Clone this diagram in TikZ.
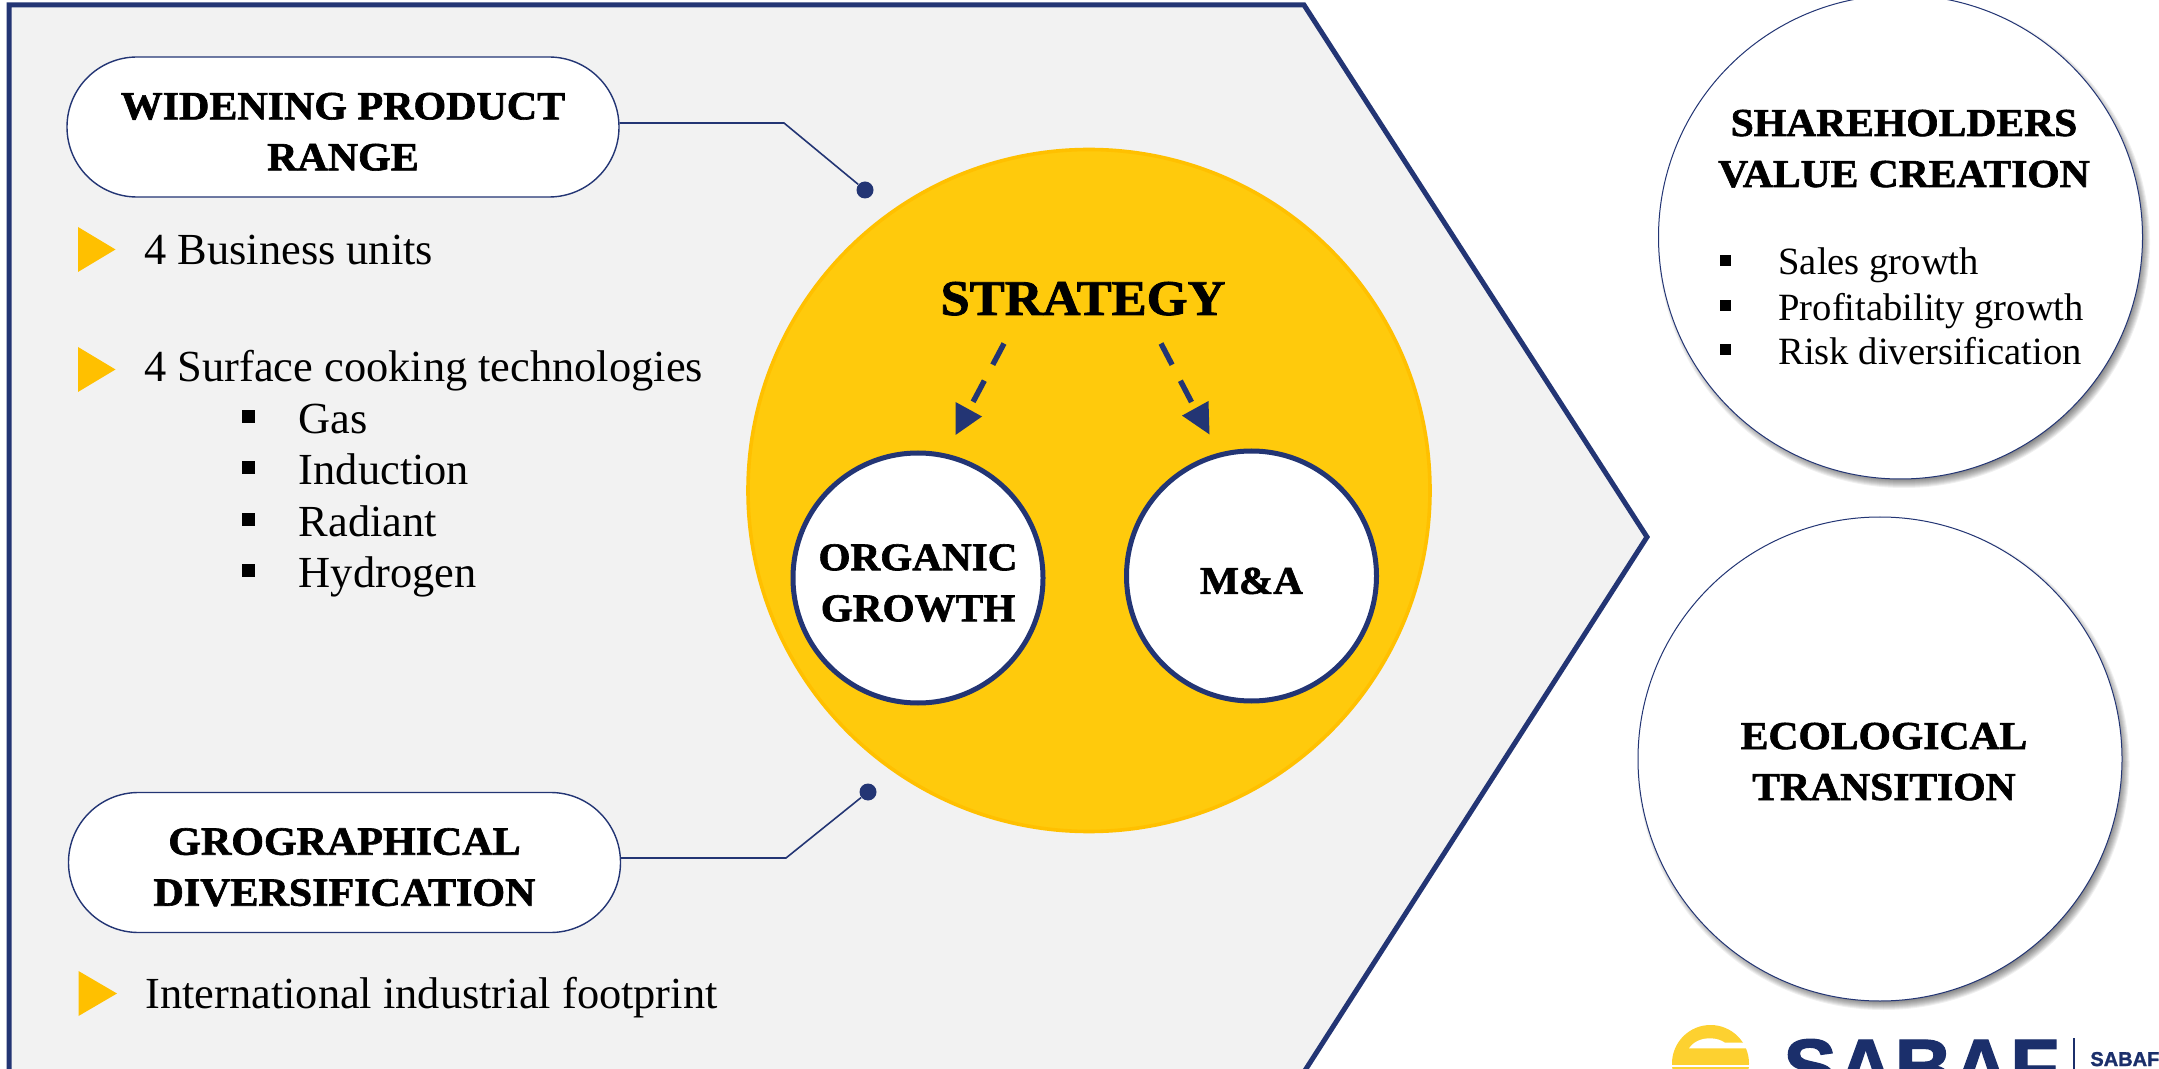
\documentclass[tikz,border=0pt]{standalone}
\usepackage{fontspec}
\usetikzlibrary{shapes.misc}
\setmainfont{Liberation Serif}
\newfontfamily\headB[FakeStretch=1.05,FakeBold=1.6]{Liberation Serif Bold}
\newfontfamily\logofont[FakeBold=1.5]{Liberation Sans Bold}
\definecolor{navy}{HTML}{233574}
\definecolor{sunfill}{HTML}{FFCA0C}
\definecolor{sunline}{HTML}{FFC000}
\definecolor{panel}{HTML}{F2F2F2}
\definecolor{logoyellow}{HTML}{FDD130}
\definecolor{logonavy}{HTML}{1B2F6B}
\newcommand{\hfnt}[1]{\headB\fontsize{#1}{25.5}\selectfont}
\tikzset{
  x=0.5pt,y=-0.5pt,
  pill/.style={draw=navy,line width=0.7pt,fill=white,rounded rectangle,minimum width=276pt,minimum height=70pt,inner sep=0pt,align=center,font=\hfnt{20}},
  bigdisc/.style={circle,draw=navy,line width=0.5pt,fill=white,minimum size=242pt,inner sep=0pt,align=center},
  headtxt/.style={font=\hfnt{19.8},align=center,inner sep=0pt},
  growth/.style={circle,draw=navy,line width=2.5pt,fill=white,minimum size=125pt,inner sep=0pt,align=center,font=\hfnt{19.6}},
  body/.style={anchor=base west,inner sep=0pt,font=\fontsize{22.2}{25}\selectfont},
  bodyr/.style={anchor=base west,inner sep=0pt,font=\fontsize{19.3}{24}\selectfont},
  tick/.style={fill=sunline},
  sq/.style={fill=black,draw=none,minimum size=6.5pt,inner sep=0pt},
  sqr/.style={fill=black,draw=none,minimum size=5.5pt,inner sep=0pt},
  endpt/.style={circle,fill=navy,minimum size=8.5pt,inner sep=0pt},
  link/.style={draw=navy,line width=0.8pt},
  dasharrow/.style={draw=navy,line width=2.7pt,dash pattern=on 12pt off 9pt},
  headfill/.style={fill=navy}
}
\begin{document}
\begin{tikzpicture}
\useasboundingbox (0,0) rectangle (2159,1069);
\clip (0,0) rectangle (2159,1069);
\fill[white] (0,0) rectangle (2159,1069);
% panel
\draw[fill=panel,draw=navy,line width=2.5pt] (9,5) -- (1304,5) -- (1647,537) -- (1304,1072) -- (1304,1100) -- (9,1100) -- cycle;
% strategy disc
\node[circle,fill=sunfill,draw=sunline,line width=1.8pt,minimum size=341pt,inner sep=0pt] (main) at (1089,490.5) {};
\node[anchor=base,inner sep=0pt,font=\hfnt{25}] (strategy) at (1083,315) {STRATEGY};
\node[growth] (organic) at (918,578) {\rule{0pt}{18pt}ORGANIC\\GROWTH};
\node[growth] (ma) at (1251.5,576) {\rule{0pt}{18pt}M\&A};
% dashed arrows
\coordinate (aL1) at (1004,343.5); \coordinate (aL2) at (972.5,403);
\coordinate (aR1) at (1161,343.5); \coordinate (aR2) at (1192,403);
\draw[dasharrow] (aL1) -- (aL2);
\draw[dasharrow] (aR1) -- (aR2);
\fill[headfill] (955.5,402) -- (982,416.5) -- (955.5,435) -- cycle;
\fill[headfill] (1208.5,401) -- (1182,415.6) -- (1209.5,434.4) -- cycle;
% pills
\node[pill] (p1) at (343,127) {\rule{0pt}{18pt}WIDENING PRODUCT\\RANGE};
\node[pill] (p2) at (344.5,862.5) {\rule{0pt}{18pt}GROGRAPHICAL\\DIVERSIFICATION};
\node[endpt] (d1) at (865,190) {};
\node[endpt] (d2) at (868,792) {};
\coordinate (e1) at (784,123);
\coordinate (e2) at (786,858);
\draw[link] (e1 -| p1.east) -- (e1) -- (d1);
\draw[link] (e2 -| p2.east) -- (e2) -- (d2);
% triangles
\fill[tick] (78,227) -- (115.5,249.5) -- (78,272) -- cycle;
\fill[tick] (78,347) -- (115.5,369.5) -- (78,392) -- cycle;
\fill[tick] (78.5,971) -- (117,993.5) -- (78.5,1016) -- cycle;
% left text
\node[body] (t1) at (144,265) {4 Business units};
\node[body] (t2) at (144,382) {4 Surface cooking technologies};
\node[sq] (b1) at (248.5,416.5) {};
\node[sq] (b2) at (248.5,468) {};
\node[sq] (b3) at (248.5,519.5) {};
\node[sq] (b4) at (248.5,571) {};
\node[body] (g1) at (298.5,433.5) {Gas};
\node[body] (g2) at (298.5,485) {Induction};
\node[body] (g3) at (298.5,536.5) {Radiant};
\node[body] (g4) at (298.5,588) {Hydrogen};
\node[body] (t3) at (145,1008) {International industrial footprint};
% right discs shadows
\foreach \k in {0,...,9}{
  \fill[black,opacity=0.06] (1904,242) circle ({(246-\k)*0.5pt});
  \fill[black,opacity=0.06] (1883.5,764) circle ({(246-\k)*0.5pt});
}
\node[bigdisc] (c1) at (1900.5,237) {};
\node[bigdisc] (c2) at (1880,759) {};
\node[headtxt,anchor=base] (h1) at (1904,136) {SHAREHOLDERS};
\node[headtxt,anchor=base] (h2) at (1904,187) {VALUE CREATION};
\node[sqr] (r1) at (1725,261) {};
\node[sqr] (r2) at (1725,305.7) {};
\node[sqr] (r3) at (1725,350) {};
\node[bodyr] (s1) at (1778,275) {Sales growth};
\node[bodyr] (s2) at (1778,321) {Profitability growth};
\node[bodyr] (s3) at (1778,364.5) {Risk diversification};
\node[headtxt,anchor=base] (h3) at (1884,749) {ECOLOGICAL};
\node[headtxt,anchor=base] (h4) at (1884,800) {TRANSITION};
% logo
\fill[logoyellow] (1710.5,1063.5) circle (19.25pt);
\fill[white] (1689,1048.3) .. controls (1694,1041) and (1702,1038.3) .. (1710,1038.3) .. controls (1716,1038.3) and (1721,1040) .. (1725,1042.7) -- (1760,1042.7) -- (1760,1048.3) -- cycle;
\fill[white] (1665,1065) rectangle (1755,1067);
\node[anchor=base west,inner sep=0pt,text=logonavy,font=\logofont\fontsize{40}{40}\selectfont] (logo) at (1783,1095) {SABAF};
\draw[logonavy,line width=0.7pt] (2074,1038) -- (2074,1075);
\node[anchor=base west,inner sep=0pt,text=logonavy,font=\logofont\fontsize{10}{12}\selectfont] (logo2) at (2090,1066) {SABAF};
\end{tikzpicture}
\end{document}
